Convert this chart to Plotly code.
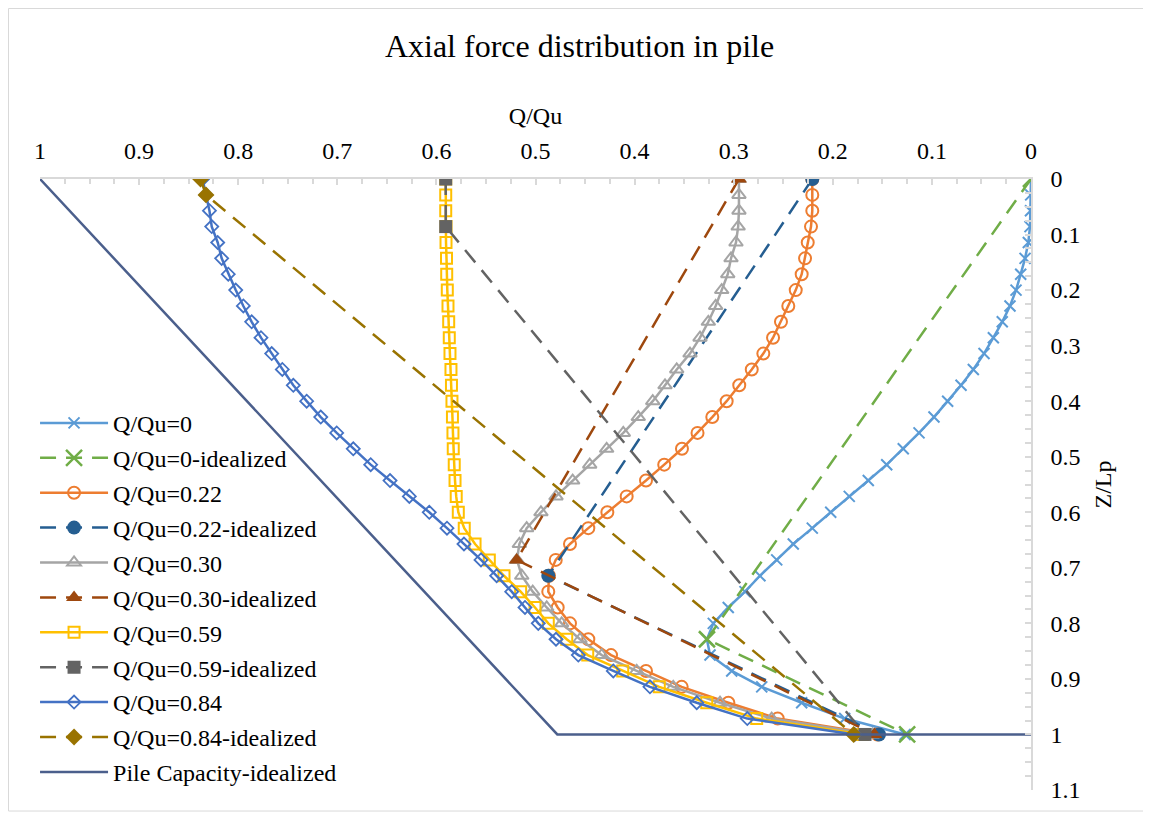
import plotly.graph_objects as go

# depth positions Z/Lp (35 equal segments along the pile)
z = [0, 0.0286, 0.0571, 0.0857, 0.1143, 0.1429, 0.1714, 0.2, 0.2286, 0.2571,
     0.2857, 0.3143, 0.3429, 0.3714, 0.4, 0.4286, 0.4571, 0.4857, 0.5143, 0.5429,
     0.5714, 0.6, 0.6286, 0.6571, 0.6857, 0.7143, 0.7429, 0.7714, 0.8, 0.8286,
     0.8571, 0.8857, 0.9143, 0.9429, 0.9714, 1.0]

q_000 = [0, 0.0003, 0.0005, 0.001, 0.0027, 0.006, 0.0104, 0.0151, 0.0212, 0.029,
         0.038, 0.0474, 0.0582, 0.0706, 0.0841, 0.0979, 0.113, 0.1289, 0.1456, 0.1642,
         0.1834, 0.2021, 0.2207, 0.2399, 0.2566, 0.2735, 0.2886, 0.3055, 0.3206, 0.327,
         0.3239, 0.302, 0.2717, 0.2314, 0.188, 0.127]
q_022 = [0.2207, 0.2207, 0.2207, 0.222, 0.2253, 0.228, 0.2314, 0.2374, 0.2449, 0.2523,
         0.2603, 0.2701, 0.2818, 0.2944, 0.3071, 0.3216, 0.3365, 0.3522, 0.3701, 0.3885,
         0.408, 0.4275, 0.4467, 0.4652, 0.4796, 0.4864, 0.4871, 0.4776, 0.4652, 0.4467,
         0.4238, 0.3885, 0.3525, 0.3054, 0.2556, 0.155]
q_030 = [0.2947, 0.2947, 0.2947, 0.2955, 0.2977, 0.3027, 0.306, 0.3121, 0.3182, 0.3256,
         0.334, 0.3441, 0.3575, 0.3693, 0.3817, 0.3963, 0.4114, 0.4282, 0.4453, 0.4625,
         0.4793, 0.4945, 0.5089, 0.5163, 0.5187, 0.5139, 0.5028, 0.4887, 0.4736, 0.4551,
         0.4332, 0.3979, 0.361, 0.3138, 0.2617, 0.16]
q_059 = [0.5906, 0.5906, 0.5906, 0.5903, 0.5903, 0.5898, 0.5896, 0.589, 0.5883, 0.5876,
         0.587, 0.5863, 0.5853, 0.5848, 0.5843, 0.5838, 0.5833, 0.583, 0.582, 0.5812,
         0.58, 0.5779, 0.5719, 0.561, 0.5466, 0.5318, 0.515, 0.5005, 0.4871, 0.4685,
         0.4473, 0.412, 0.3751, 0.3272, 0.2768, 0.17]
q_084 = [0.836, 0.8325, 0.829, 0.8267, 0.8207, 0.8167, 0.81, 0.8025, 0.7948, 0.7864,
         0.777, 0.7662, 0.7555, 0.7444, 0.7309, 0.7167, 0.7006, 0.6839, 0.6663, 0.6468,
         0.6273, 0.6072, 0.5893, 0.5722, 0.555, 0.5392, 0.524, 0.5106, 0.4972, 0.4793,
         0.4568, 0.4215, 0.3845, 0.3373, 0.2863, 0.178]

# idealized (tri-linear) distributions
ideal_000_q = [0, 0.327, 0.125]
ideal_000_z = [0, 0.8286, 1.0]
ideal_022_q = [0.2207, 0.4871, 0.1534]
ideal_022_z = [0, 0.7143, 1.0]
ideal_030_q = [0.2947, 0.519, 0.158]
ideal_030_z = [0, 0.6857, 1.0]
ideal_059_q = [0.5906, 0.5906, 0.1675]
ideal_059_z = [0, 0.0857, 1.0]
ideal_084_q = [0.838, 0.8325, 0.179]
ideal_084_z = [0, 0.0286, 1.0]

pile_cap_q = [1.0, 0.478, 0.0]
pile_cap_z = [0.0, 1.0, 1.0]

x_ticks = [1, 0.9, 0.8, 0.7, 0.6, 0.5, 0.4, 0.3, 0.2, 0.1, 0]
y_ticks = [0, 0.1, 0.2, 0.3, 0.4, 0.5, 0.6, 0.7, 0.8, 0.9, 1, 1.1]

FONT = "Liberation Serif"
DASH = "16px,10px"
LW = 2.5

fig = go.Figure()


def solid(name, q, color, symbol, size, mlw=1.8):
    fig.add_trace(go.Scatter(
        x=q, y=z, name=name, mode="lines+markers", legendgroup=name,
        line=dict(color=color, width=LW),
        marker=dict(symbol=symbol, size=size, color=color,
                    line=dict(color=color, width=mlw))))


def ideal(name, q, zz, color, symbol, size, mlw=0):
    fig.add_trace(go.Scatter(
        x=q, y=zz, name=name, mode="lines+markers", legendgroup=name,
        line=dict(color=color, width=LW, dash=DASH),
        marker=dict(symbol=symbol, size=size, color=color,
                    line=dict(color=color, width=mlw))))


solid("Q/Qu=0", q_000, "#5B9BD5", "x-thin", 11, 2)
ideal("Q/Qu=0-idealized", ideal_000_q, ideal_000_z, "#70AD47", "x-thin", 16, 2.5)
solid("Q/Qu=0.22", q_022, "#ED7D31", "circle-open", 12, 2)
ideal("Q/Qu=0.22-idealized", ideal_022_q, ideal_022_z, "#255E91", "circle", 14)
solid("Q/Qu=0.30", q_030, "#A5A5A5", "triangle-up-open", 12, 2)
ideal("Q/Qu=0.30-idealized", ideal_030_q, ideal_030_z, "#9E480E", "triangle-up", 14)
solid("Q/Qu=0.59", q_059, "#FFC000", "square-open", 11, 2)
ideal("Q/Qu=0.59-idealized", ideal_059_q, ideal_059_z, "#636363", "square", 13)
solid("Q/Qu=0.84", q_084, "#4472C4", "diamond-open", 10, 1.8)
ideal("Q/Qu=0.84-idealized", ideal_084_q, ideal_084_z, "#997300", "diamond", 13)
fig.add_trace(go.Scatter(
    x=pile_cap_q, y=pile_cap_z, name="Pile Capacity-idealized", mode="lines",
    legendgroup="pile", line=dict(color="#4B5F8C", width=LW)))

axis_common = dict(
    showgrid=False, zeroline=False, showline=True, linecolor="#D9D9D9",
    linewidth=1.5, ticks="inside", ticklen=6, tickcolor="#D9D9D9", tickwidth=1.5,
    tickfont=dict(family=FONT, size=24, color="#000000"),
)

W, H = 1143, 808
fig.update_layout(
    width=W, height=H,
    paper_bgcolor="white", plot_bgcolor="white",
    margin=dict(l=32, r=120, t=171, b=26),
    font=dict(family=FONT, size=24, color="#000000"),
    title=dict(text="Axial force distribution in pile", x=0.5, xanchor="center",
               y=0.953, yanchor="middle", font=dict(family=FONT, size=32, color="#000000")),
    xaxis=dict(range=[1, 0], side="top", tickvals=x_ticks,
               ticktext=[f"{v:g}" for v in x_ticks],
               minor=dict(dtick=0.025, ticks="inside", ticklen=5, tickcolor="#D9D9D9", tickwidth=1.5),
               title=dict(text="Q/Qu", font=dict(family=FONT, size=24), standoff=6),
               ticklabelstandoff=9,
               **axis_common),
    yaxis=dict(range=[1.1, 0], side="right", tickvals=y_ticks,
               ticktext=[f"{v:g}" for v in y_ticks],
               minor=dict(dtick=0.025, ticks="inside", ticklen=6, tickcolor="#D9D9D9", tickwidth=1.5),
               title=dict(text="Z/Lp", font=dict(family=FONT, size=24), standoff=15),
               ticklabelstandoff=13,
               **axis_common),
    legend=dict(x=-0.005, y=0.637, xanchor="left", yanchor="top",
                bgcolor="rgba(0,0,0,0)", font=dict(family=FONT, size=24, color="#000000"),
                tracegroupgap=0.7, itemwidth=68),
    shapes=[dict(type="rect", xref="paper", yref="paper",
                 x0=-0.0318, x1=1.116, y0=-0.0344, y1=1.279,
                 line=dict(color="#D9D9D9", width=1), layer="below")],
)

fig.write_html("out.html")
